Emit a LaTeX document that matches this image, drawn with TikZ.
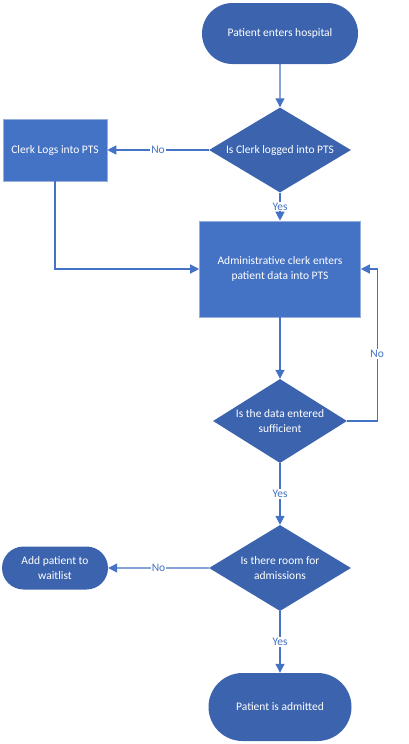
\documentclass[tikz,border=0pt]{standalone}
\usepackage{fontspec}
\setmainfont{Carlito}
\definecolor{flowdark}{RGB}{60,100,174}
\definecolor{flowlight}{RGB}{68,114,196}
\definecolor{flowedge}{RGB}{150,175,222}
\usetikzlibrary{shapes.geometric, shapes.misc, arrows.meta, positioning}
\tikzset{
>={Triangle[length=9pt,width=9pt]}, % filled triangle heads
node distance=2cm, % overwritten per node below
every node/.style={font=\fontsize{11.5}{15}\selectfont},
terminal/.style={rounded rectangle, fill=flowdark, text=white, inner sep=0pt, align=center}, % start and end ovals
process/.style={rectangle, fill=flowlight, draw=flowedge, line width=0.6pt, text=white, align=center},
decision/.style={diamond, aspect=1.65, fill=flowdark, text=white, inner sep=0pt, align=center},
flow/.style={->, draw=flowlight, line width=1.3pt},
answer/.style={fill=white, text=flowlight, inner sep=1pt}, % Yes / No on the lines
}

\begin{document}
\begin{tikzpicture}[x=1pt, y=1pt]
      \useasboundingbox (0,0) rectangle (408,-744);
      \node[terminal, minimum width=156pt, minimum height=61pt] (start) at (280,-33.5) {Patient enters hospital};
      \node[decision, minimum width=142pt, minimum height=85pt, node distance=116.5pt, below of=start] (logged) {Is Clerk logged into PTS};
      \node[process, minimum width=104pt, minimum height=62pt, node distance=225pt, left of=logged] (login) {Clerk Logs into PTS};
      \node[process, minimum width=161pt, minimum height=96pt, node distance=119pt, below of=logged] (entry) {Administrative clerk enters\\patient data into PTS};
      \node[decision, aspect=1.6, minimum width=134pt, minimum height=84pt, node distance=152pt, below of=entry] (enough) {Is the data entered\\sufficient};
      \node[decision, minimum width=142pt, minimum height=86pt, node distance=147pt, below of=enough] (room) {Is there room for\\admissions};
      \node[terminal, minimum width=106pt, minimum height=43pt, node distance=225pt, left of=room] (wait) {Add patient to\\waitlist};
      \node[terminal, minimum width=143pt, minimum height=68pt, node distance=139pt, below of=room] (admit) {Patient is admitted};

      \draw[flow] (start) -- (logged);
      \draw[flow] (logged) -- node[answer]{No} (login);
      \draw[flow] (logged) -- node[answer]{Yes} (entry);
      \draw[flow] (login) |- (entry);
      \draw[flow] (entry) -- (enough);
      \draw[flow] (enough.east) -- ++(30,0) |- node[answer, pos=0.22]{No} (entry.east);
      \draw[flow] (enough) -- node[answer]{Yes} (room);
      \draw[flow] (room) -- node[answer]{No} (wait);
      \draw[flow] (room) -- node[answer]{Yes} (admit);
    \end{tikzpicture}
\end{document}
